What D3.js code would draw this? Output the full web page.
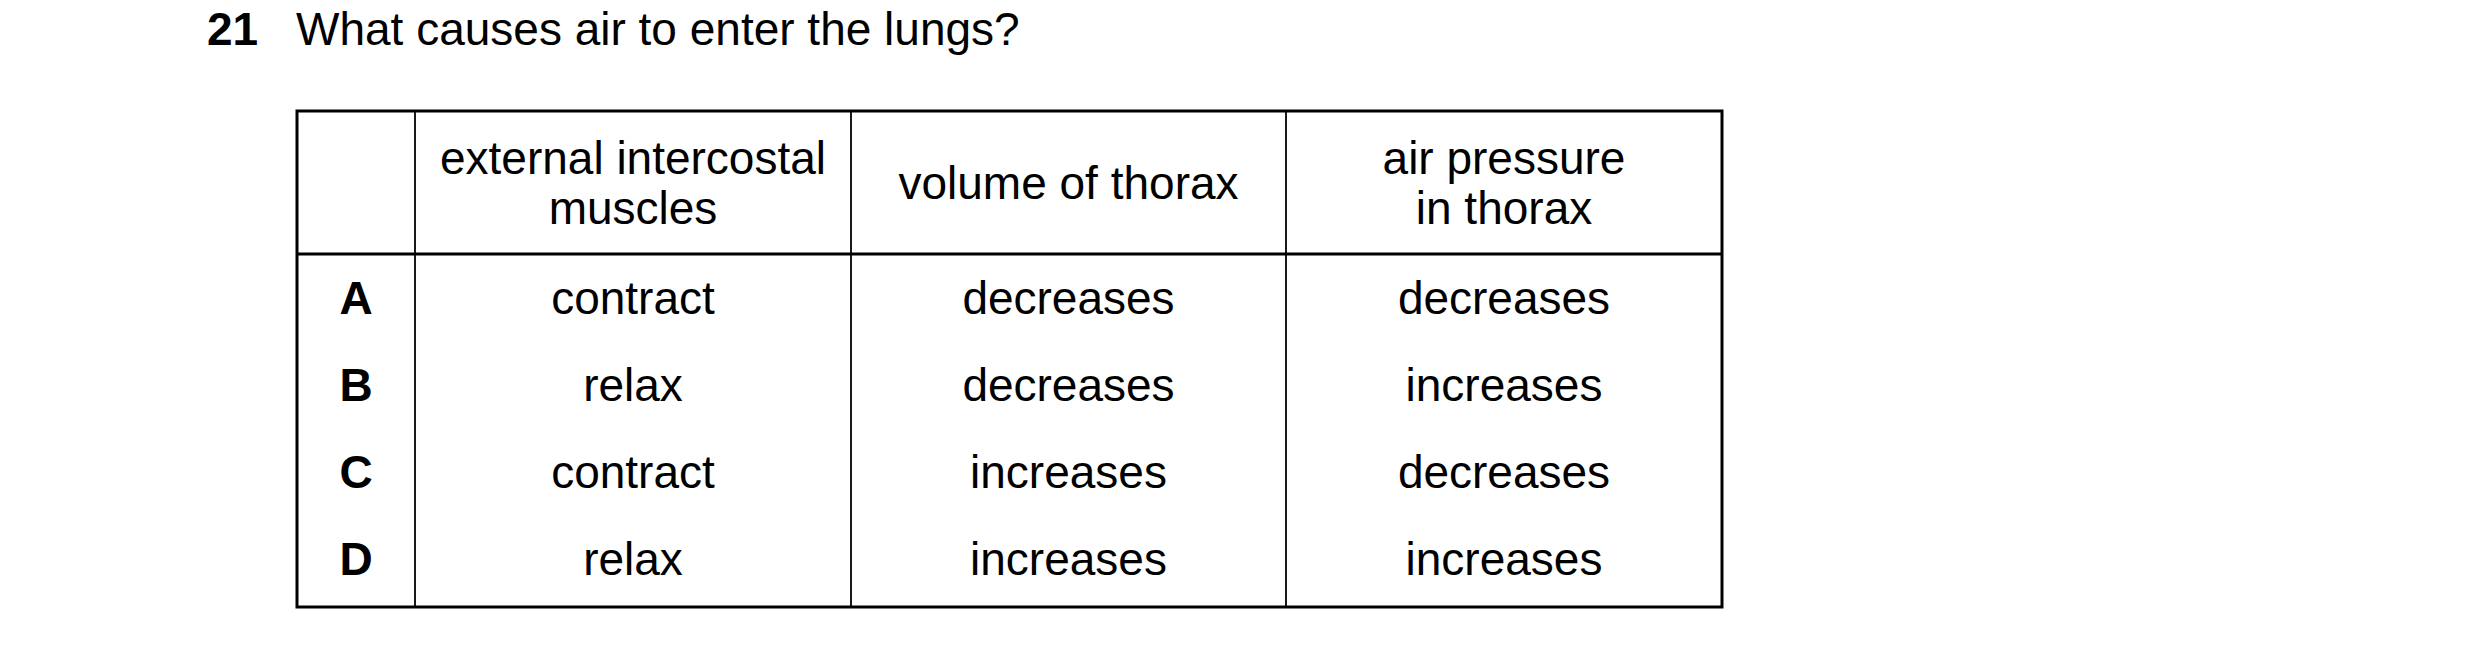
<!DOCTYPE html>
<html>
<head>
<meta charset="utf-8">
<script src="https://cdn.jsdelivr.net/npm/d3@7"></script>
<style>
  body { margin: 0; background: #fff; }
  text { font-family: "Liberation Sans", Arial, sans-serif; fill: #000; }
</style>
</head>
<body>
<svg id="chart" width="2480" height="646"></svg>
<script>
// question data
var questionNumber = "21";
var questionText = "What causes air to enter the lungs?";
var headers = [["external intercostal", "muscles"], ["volume of thorax"], ["air pressure", "in thorax"]];
var options = ["A", "B", "C", "D"];
var muscles = ["contract", "relax", "contract", "relax"];
var volume = ["decreases", "decreases", "increases", "increases"];
var pressure = ["decreases", "increases", "decreases", "increases"];

(function draw() {
    var svg = d3.select("#chart");
    var fs = 46;

    // title
    svg.append("text").attr("x", 207).attr("y", 45).attr("font-size", fs)
        .attr("font-weight", "bold").text(questionNumber);
    svg.append("text").attr("x", 296).attr("y", 45).attr("font-size", fs).text(questionText);

    // table geometry
    var tLeft = 297, tRight = 1722, tTop = 111, headBottom = 254, tBottom = 607;
    var colEdges = [tLeft, 415, 851, 1286, tRight];
    var y = d3.scaleBand().domain(options).range([headBottom + 2, tBottom - 2]);
    var colCenter = function (i) { return (colEdges[i] + colEdges[i + 1]) / 2; };

    var g = svg.append("g");
    g.append("rect").attr("x", tLeft).attr("y", tTop).attr("width", tRight - tLeft)
        .attr("height", tBottom - tTop).attr("fill", "none").attr("stroke", "#000").attr("stroke-width", 3);
    g.append("line").attr("x1", tLeft).attr("x2", tRight).attr("y1", headBottom).attr("y2", headBottom)
        .attr("stroke", "#000").attr("stroke-width", 3);
    g.selectAll(".col").data(colEdges.slice(1, 4)).enter().append("line")
        .attr("x1", function (d) { return d; }).attr("x2", function (d) { return d; })
        .attr("y1", tTop).attr("y2", tBottom).attr("stroke", "#000").attr("stroke-width", 1.8);

    // headers
    headers.forEach(function (lines, i) {
        var cx = colCenter(i + 1), cy = (tTop + headBottom) / 2;
        var lh = 50;
        lines.forEach(function (l, j) {
            g.append("text").attr("x", cx).attr("y", cy + (j - (lines.length - 1) / 2) * lh)
                .attr("dy", "0.35em").attr("text-anchor", "middle").attr("font-size", fs).text(l);
        });
    });

    // body
    var cols = [options, muscles, volume, pressure];
    cols.forEach(function (vals, i) {
        g.selectAll(".c" + i).data(vals).enter().append("text")
            .attr("x", colCenter(i))
            .attr("y", function (d, k) { return y(options[k]) + y.bandwidth() / 2 - 2; })
            .attr("dy", "0.35em").attr("text-anchor", "middle").attr("font-size", fs)
            .attr("font-weight", i === 0 ? "bold" : "normal")
            .text(function (d) { return d; });
    });
})();
</script>
</body>
</html>
